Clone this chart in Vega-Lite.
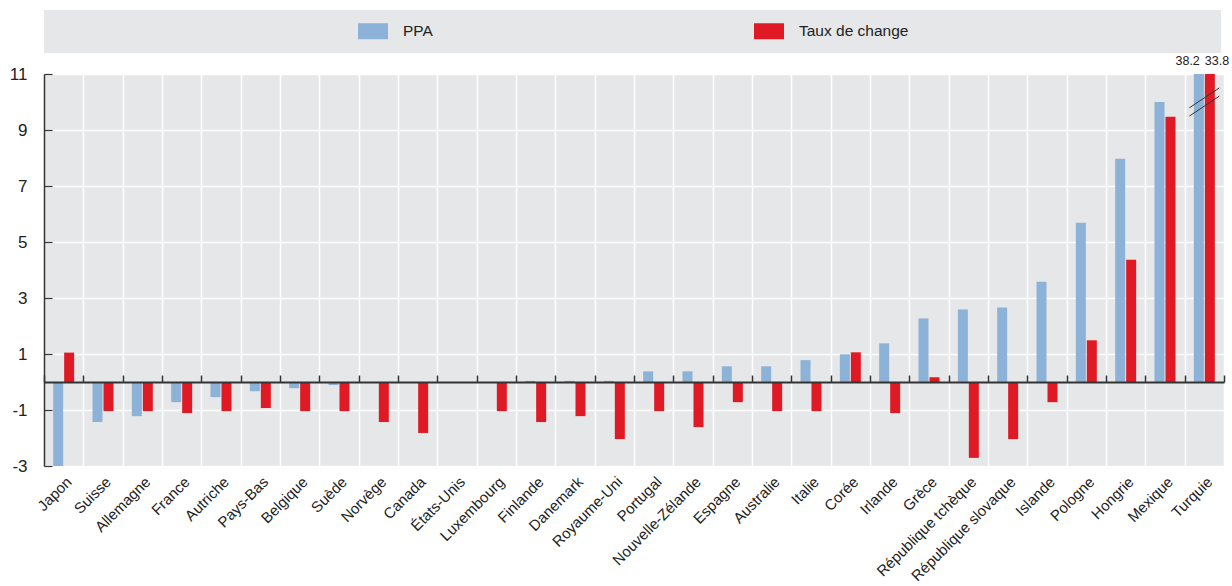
{
  "$schema": "https://vega.github.io/schema/vega-lite/v6.json",
  "width": 1180,
  "height": 392,
  "autosize": {"type": "none"},
  "padding": {"left": 44, "top": 74, "right": 8, "bottom": 120},
  "background": "white",
  "data": {"values": [
    {"pays": "Japon", "serie": "PPA", "valeur": -3.0}, {"pays": "Japon", "serie": "Taux de change", "valeur": 1.05},
    {"pays": "Suisse", "serie": "PPA", "valeur": -1.43}, {"pays": "Suisse", "serie": "Taux de change", "valeur": -1.04},
    {"pays": "Allemagne", "serie": "PPA", "valeur": -1.22}, {"pays": "Allemagne", "serie": "Taux de change", "valeur": -1.04},
    {"pays": "France", "serie": "PPA", "valeur": -0.72}, {"pays": "France", "serie": "Taux de change", "valeur": -1.11},
    {"pays": "Autriche", "serie": "PPA", "valeur": -0.54}, {"pays": "Autriche", "serie": "Taux de change", "valeur": -1.04},
    {"pays": "Pays-Bas", "serie": "PPA", "valeur": -0.33}, {"pays": "Pays-Bas", "serie": "Taux de change", "valeur": -0.93},
    {"pays": "Belgique", "serie": "PPA", "valeur": -0.22}, {"pays": "Belgique", "serie": "Taux de change", "valeur": -1.04},
    {"pays": "Suède", "serie": "PPA", "valeur": -0.11}, {"pays": "Suède", "serie": "Taux de change", "valeur": -1.04},
    {"pays": "Norvège", "serie": "PPA", "valeur": 0}, {"pays": "Norvège", "serie": "Taux de change", "valeur": -1.43},
    {"pays": "Canada", "serie": "PPA", "valeur": 0}, {"pays": "Canada", "serie": "Taux de change", "valeur": -1.82},
    {"pays": "États-Unis", "serie": "PPA", "valeur": 0}, {"pays": "États-Unis", "serie": "Taux de change", "valeur": 0},
    {"pays": "Luxembourg", "serie": "PPA", "valeur": 0}, {"pays": "Luxembourg", "serie": "Taux de change", "valeur": -1.04},
    {"pays": "Finlande", "serie": "PPA", "valeur": 0.04}, {"pays": "Finlande", "serie": "Taux de change", "valeur": -1.43},
    {"pays": "Danemark", "serie": "PPA", "valeur": 0.04}, {"pays": "Danemark", "serie": "Taux de change", "valeur": -1.22},
    {"pays": "Royaume-Uni", "serie": "PPA", "valeur": 0.04}, {"pays": "Royaume-Uni", "serie": "Taux de change", "valeur": -2.04},
    {"pays": "Portugal", "serie": "PPA", "valeur": 0.38}, {"pays": "Portugal", "serie": "Taux de change", "valeur": -1.04},
    {"pays": "Nouvelle-Zélande", "serie": "PPA", "valeur": 0.38}, {"pays": "Nouvelle-Zélande", "serie": "Taux de change", "valeur": -1.61},
    {"pays": "Espagne", "serie": "PPA", "valeur": 0.56}, {"pays": "Espagne", "serie": "Taux de change", "valeur": -0.72},
    {"pays": "Australie", "serie": "PPA", "valeur": 0.56}, {"pays": "Australie", "serie": "Taux de change", "valeur": -1.04},
    {"pays": "Italie", "serie": "PPA", "valeur": 0.78}, {"pays": "Italie", "serie": "Taux de change", "valeur": -1.04},
    {"pays": "Corée", "serie": "PPA", "valeur": 0.99}, {"pays": "Corée", "serie": "Taux de change", "valeur": 1.06},
    {"pays": "Irlande", "serie": "PPA", "valeur": 1.38}, {"pays": "Irlande", "serie": "Taux de change", "valeur": -1.11},
    {"pays": "Grèce", "serie": "PPA", "valeur": 2.27}, {"pays": "Grèce", "serie": "Taux de change", "valeur": 0.17},
    {"pays": "République tchèque", "serie": "PPA", "valeur": 2.59}, {"pays": "République tchèque", "serie": "Taux de change", "valeur": -2.71},
    {"pays": "République slovaque", "serie": "PPA", "valeur": 2.66}, {"pays": "République slovaque", "serie": "Taux de change", "valeur": -2.04},
    {"pays": "Islande", "serie": "PPA", "valeur": 3.58}, {"pays": "Islande", "serie": "Taux de change", "valeur": -0.72},
    {"pays": "Pologne", "serie": "PPA", "valeur": 5.69}, {"pays": "Pologne", "serie": "Taux de change", "valeur": 1.49},
    {"pays": "Hongrie", "serie": "PPA", "valeur": 7.97}, {"pays": "Hongrie", "serie": "Taux de change", "valeur": 4.37},
    {"pays": "Mexique", "serie": "PPA", "valeur": 10.0}, {"pays": "Mexique", "serie": "Taux de change", "valeur": 9.47},
    {"pays": "Turquie", "serie": "PPA", "valeur": 38.2}, {"pays": "Turquie", "serie": "Taux de change", "valeur": 33.8}
  ]},
  "config": {
    "view": {"stroke": null, "fill": "#e6e7e9"},
    "font": "Liberation Sans"
  },
  "layer": [
    {
      "mark": {"type": "bar"},
      "encoding": {
        "x": {
          "field": "pays", "type": "nominal", "sort": null,
          "scale": {"domain": ["Japon","Suisse","Allemagne","France","Autriche","Pays-Bas","Belgique","Suède","Norvège","Canada","États-Unis","Luxembourg","Finlande","Danemark","Royaume-Uni","Portugal","Nouvelle-Zélande","Espagne","Australie","Italie","Corée","Irlande","Grèce","République tchèque","République slovaque","Islande","Pologne","Hongrie","Mexique","Turquie"], "paddingInner": 0, "paddingOuter": 0},
          "axis": {"orient": "bottom", "title": null, "domain": false, "ticks": false, "grid": true, "gridColor": "white", "gridWidth": 1.5, "tickBand": "extent", "labelAngle": -45, "labelAlign": "right", "labelBaseline": "top", "labelPadding": 8, "labelFontSize": 15, "labelColor": "#222", "labelOverlap": false, "labelBound": false, "labelLimit": 300, "zindex": 0}
        },
        "xOffset": {"field": "serie", "type": "nominal", "sort": ["PPA", "Taux de change"], "scale": {"paddingInner": 0.09, "paddingOuter": 0.835}},
        "y": {
          "field": "valeur", "type": "quantitative",
          "scale": {"domain": [-3, 11], "nice": false, "zero": false, "clamp": true},
          "axis": {"title": null, "values": [-3, -1, 1, 3, 5, 7, 9, 11], "domain": true, "domainColor": "#333", "domainWidth": 1.5, "ticks": true, "tickSize": -8, "tickColor": "#333", "tickWidth": 1.2, "labelPadding": 25, "labelFontSize": 17, "labelColor": "#222", "labelExpr": "'' + datum.value", "grid": true, "gridColor": "white", "gridWidth": 1.5, "zindex": 0}
        },
        "color": {
          "field": "serie", "type": "nominal",
          "scale": {"domain": ["PPA", "Taux de change"], "range": ["#8cb2d7", "#e01a24"]},
          "legend": {"orient": "none", "legendX": 0, "legendY": -64, "direction": "horizontal", "title": null, "fillColor": "#e6e7e9", "padding": 13, "symbolType": "M-1.875,-1H1.875V1H-1.875Z", "symbolSize": 256, "symbolStrokeWidth": 0, "symbolOffset": 308, "labelOffset": 22, "labelFontSize": 15.5, "labelColor": "#222", "columnPadding": 20, "labelLimit": 1000, "labelExpr": "datum.label == 'Taux de change' ? datum.label + '\u2003\u2003\u2003\u2003\u2003\u2003\u2003\u2003\u2003\u2003\u2003\u2003\u2003\u2003\u2003\u2003\u2003\u2003\u2003 \u200b' : datum.label"}
        }
      }
    },
    {
      "transform": [{"filter": "datum.valeur > 11 && datum.serie == 'PPA'"}],
      "mark": {"type": "text", "align": "right", "baseline": "bottom", "dx": 1, "dy": -6, "fontSize": 12.5, "color": "#222"},
      "encoding": {
        "x": {"field": "pays", "type": "nominal", "sort": null, "axis": null},
        "xOffset": {"field": "serie", "type": "nominal", "sort": ["PPA", "Taux de change"]},
        "y": {"field": "valeur", "type": "quantitative"},
        "text": {"field": "valeur", "type": "quantitative", "format": ".1f"}
      }
    },
    {
      "transform": [{"filter": "datum.valeur > 11 && datum.serie == 'Taux de change'"}],
      "mark": {"type": "text", "align": "left", "baseline": "bottom", "dx": -5, "dy": -6, "fontSize": 12.5, "color": "#222"},
      "encoding": {
        "x": {"field": "pays", "type": "nominal", "sort": null, "axis": null},
        "xOffset": {"field": "serie", "type": "nominal", "sort": ["PPA", "Taux de change"]},
        "y": {"field": "valeur", "type": "quantitative"},
        "text": {"field": "valeur", "type": "quantitative", "format": ".1f"}
      }
    },
    {
      "transform": [{"filter": "datum.pays == 'Turquie' && datum.serie == 'PPA'"}],
      "mark": {"type": "point", "shape": "M-1,0.39L1,-0.94M-1,0.94L1,-0.39", "size": 900, "filled": false, "stroke": "#333", "strokeWidth": 1, "opacity": 1},
      "encoding": {
        "x": {"field": "pays", "type": "nominal", "sort": null,
          "axis": {"orient": "top", "offset": -308, "title": null, "labels": false, "domain": true, "domainColor": "#333", "domainWidth": 2, "ticks": true, "tickBand": "extent", "tickSize": 7, "tickColor": "#333", "tickWidth": 1.5, "grid": false, "zindex": 1}},
        "y": {"datum": 10}
      }
    }
  ],
  "resolve": {"axis": {"x": "independent"}}
}
